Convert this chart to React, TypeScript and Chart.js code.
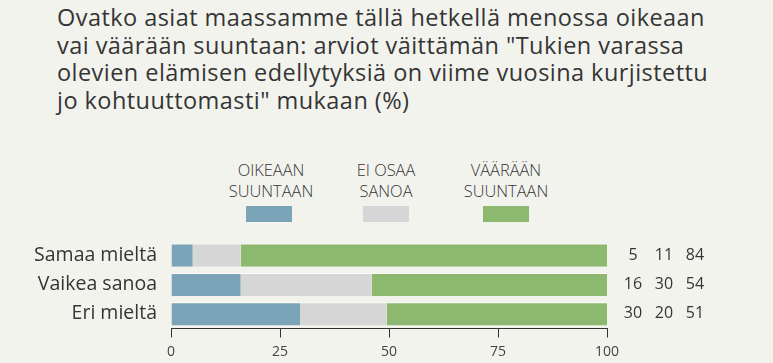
import React, { useEffect, useRef } from "react";
import { Chart, registerables } from "chart.js";

Chart.register(...registerables);

const titleLines = [
  "Ovatko asiat maassamme tällä hetkellä menossa oikeaan",
  "vai väärään suuntaan: arviot väittämän \"Tukien varassa",
  "olevien elämisen edellytyksiä on viime vuosina kurjistettu",
  "jo kohtuuttomasti\" mukaan (%)",
];
const categories = ["Samaa mieltä", "Vaikea sanoa", "Eri mieltä"];
const seriesNames = [["OIKEAAN", "SUUNTAAN"], ["EI OSAA", "SANOA"], ["VÄÄRÄÄN", "SUUNTAAN"]];
const oikeaan = [5, 16, 30];
const eiOsaa = [11, 30, 20];
const vaaraan = [84, 54, 51];
const xTicks = [0, 25, 50, 75, 100];
const colors = ["#7ba4b8", "#d6d6d6", "#8db870"];

const FONT = "'Open Sans', 'Noto Sans', sans-serif";
const TEXT = "#353535";

export default function App() {
  const ref = useRef<HTMLCanvasElement>(null);
  useEffect(() => {
    const series = [oikeaan, eiOsaa, vaaraan];
    const totals = categories.map((_, i) => series.reduce((s, arr) => s + arr[i], 0));
    const valuePlugin = {
      id: "values",
      afterDraw(chart: any) {
        const ctx = chart.ctx;
        const y = chart.scales.y;
        ctx.save();
        ctx.font = `16px ${FONT}`;
        ctx.fillStyle = TEXT;
        ctx.textAlign = "center";
        ctx.textBaseline = "middle";
        const cols = [633, 664, 695];
        categories.forEach((_, i) => {
          const yy = y.getPixelForValue(i);
          series.forEach((arr, k) => {
            ctx.fillText(String(arr[i]), cols[k], yy);
          });
        });
        ctx.restore();
      },
    };
    const chart = new Chart(ref.current!, {
      type: "bar",
      data: {
        labels: categories,
        datasets: series.map((arr, k) => ({
          label: seriesNames[k].join(" "),
          data: arr.map((v, i) => (v / totals[i]) * 100),
          backgroundColor: colors[k],
          borderColor: "rgba(255,255,255,0.7)",
          borderWidth: { top: 1, bottom: 0, left: 0, right: 0 },
          borderSkipped: false,
          barPercentage: 0.79,
          categoryPercentage: 1,
        })),
      },
      options: {
        indexAxis: "y",
        animation: false,
        responsive: false,
        maintainAspectRatio: false,
        layout: { padding: { left: 0, right: 166, top: 240.5, bottom: 2.5 } },
        plugins: { legend: { display: false }, tooltip: { enabled: false }, title: { display: false } },
        scales: {
          x: {
            stacked: true,
            min: 0,
            max: 100,
            afterBuildTicks(scale: any) {
              scale.ticks = xTicks.map((v) => ({ value: v }));
            },
            grid: { display: true, drawOnChartArea: false, drawTicks: true, tickLength: 9, color: "#333", lineWidth: 1 },
            border: { display: true, color: "#333", width: 1 },
            ticks: { padding: 6, font: { family: FONT, size: 14 }, color: "#444", maxRotation: 0 },
            afterFit(scale: any) {
              scale.height = 32;
            },
          },
          y: {
            stacked: true,
            grid: { display: false },
            border: { display: false },
            ticks: { padding: 6, font: { family: FONT, size: 19.5 }, color: TEXT },
            afterFit(scale: any) {
              scale.width = 171;
            },
          },
        },
      },
      plugins: [valuePlugin],
    });
    return () => chart.destroy();
  }, []);

  const legendCenters = [271, 386, 506];
  return (
    <div style={{ position: "fixed", left: 0, top: 0, width: 773, height: 363, background: "#f3f3ee", overflow: "hidden", fontFamily: FONT }}>
      <div style={{ position: "absolute", left: 57, top: 4, fontSize: 23.5, fontWeight: 400, letterSpacing: "0.45px", lineHeight: "27.7px", color: TEXT, whiteSpace: "nowrap" }}>
        {titleLines.map((l, i) => (
          <div key={i}>{l}</div>
        ))}
      </div>
      {seriesNames.map((lines, k) => (
        <div key={k} style={{ position: "absolute", left: legendCenters[k] - 80, width: 160, top: 159, textAlign: "center", color: TEXT, fontSize: 16.4, fontWeight: 300, lineHeight: "21px" }}>
          {lines.map((l, i) => (
            <div key={i}>{l}</div>
          ))}
          <div style={{ width: 46, height: 16, background: colors[k], margin: "5px auto 0", position: "relative", left: k === 0 ? -2 : 0 }} />
        </div>
      ))}
      <canvas ref={ref} width={773} height={363} style={{ position: "absolute", left: 0, top: 0 }} />
    </div>
  );
}
